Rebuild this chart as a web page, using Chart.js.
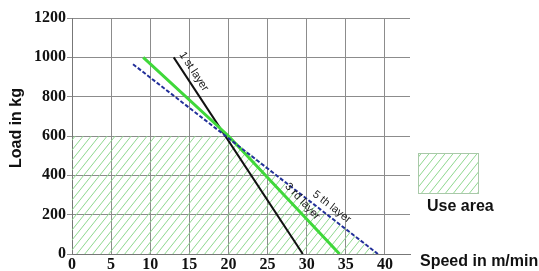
<!DOCTYPE html>
<html lang="en">
<head>
<meta charset="UTF-8">
<title>Load vs speed per layer</title>
<script src="https://cdn.jsdelivr.net/npm/chart.js"></script>
<style>
  html, body { margin: 0; padding: 0; background: #fff; }
  #wrap { width: 539px; height: 271px; }
</style>
</head>
<body>
<div id="wrap"><canvas id="loadChart" width="539" height="271"></canvas></div>
<script>
// values
const speedTicks = [0, 5, 10, 15, 20, 25, 30, 35, 40];
const loadTicks = [0, 200, 400, 600, 800, 1000, 1200];

const layer1Speed = [13.0, 29.5];
const layer1Load = [1000, 0];
const layer3Speed = [9.1, 20, 34.2];
const layer3Load = [1000, 600, 0];
const layer5Speed = [7.8, 39.1];
const layer5Load = [965, 0];
const useAreaSpeed = [0, 20, 39.1];
const useAreaLoad = [600, 600, 0];

const layerNames = ['1 st layer', '3 rd layer', '5 th layer'];
const layerNameSpeed = [14.6, 28.6, 32.5];

const toPoints = (xs, ys) => xs.map((x, i) => ({ x: x, y: ys[i] }));

// green hatch for the use area
function makeHatch() {
    const c = document.createElement('canvas');
    c.width = 8; c.height = 10;
    const g = c.getContext('2d');
    g.strokeStyle = '#8ed88e';
    g.lineWidth = 1;
    [-8, 0, 8].forEach(k => {
        g.beginPath();
        g.moveTo(k, 10);
        g.lineTo(k + 8, 0);
        g.stroke();
    });
    return g.createPattern(c, 'repeat');
}
const hatch = makeHatch();

const extras = {
    id: 'extras',
    afterDatasetsDraw(chart) {
        const ctx = chart.ctx;
        const xs = chart.scales.x, ys = chart.scales.y;
        ctx.save();
        ctx.font = '11px "Liberation Sans", Arial, sans-serif';
        ctx.fillStyle = '#1a1a1a';
        ctx.textAlign = 'center';
        ctx.textBaseline = 'middle';
        layerNames.forEach((name, i) => {
            const pts = chart.data.datasets[i + 1].data;
            const sx = layerNameSpeed[i];
            let k = 0;
            while (k < pts.length - 2 && sx > pts[k + 1].x) k++;
            const a = pts[k], b = pts[k + 1];
            const t = (sx - a.x) / (b.x - a.x);
            const sy = a.y + t * (b.y - a.y);
            const pa = { x: xs.getPixelForValue(a.x), y: ys.getPixelForValue(a.y) };
            const pb = { x: xs.getPixelForValue(b.x), y: ys.getPixelForValue(b.y) };
            const ang = Math.atan2(pb.y - pa.y, pb.x - pa.x);
            const off = 9;
            const cx = xs.getPixelForValue(sx) + off * Math.sin(ang);
            const cy = ys.getPixelForValue(sy) - off * Math.cos(ang);
            ctx.save();
            ctx.translate(cx, cy);
            ctx.rotate(ang);
            ctx.fillText(name, 0, 0);
            ctx.restore();
        });
        ctx.restore();
    },
    afterDraw(chart) {
        const ctx = chart.ctx;
        const area = chart.chartArea;
        ctx.save();
        ctx.fillStyle = '#111';
        ctx.font = 'bold 16px "Liberation Sans", Arial, sans-serif';

        // y axis title
        ctx.save();
        ctx.translate(17, 128);
        ctx.rotate(-Math.PI / 2);
        ctx.textAlign = 'center';
        ctx.textBaseline = 'middle';
        ctx.fillText('Load in kg', 0, 0);
        ctx.restore();

        // x axis title, right of the axis
        ctx.textAlign = 'left';
        ctx.textBaseline = 'middle';
        ctx.fillText('Speed in m/min', area.right + 10, area.bottom + 8);

        // use area key
        const bx = area.right + 8, by = 153, bw = 60, bh = 40;
        ctx.fillStyle = hatch;
        ctx.fillRect(bx, by, bw, bh);
        ctx.strokeStyle = '#a9c9a9';
        ctx.lineWidth = 1;
        ctx.strokeRect(bx + 0.5, by + 0.5, bw, bh);
        ctx.fillStyle = '#111';
        ctx.fillText('Use area', area.right + 17, 207);
        ctx.restore();
    }
};

const tickFont = { family: '"Liberation Serif", "Times New Roman", serif', size: 16, weight: 'bold' };

new Chart(document.getElementById('loadChart'), {
    type: 'scatter',
    data: {
        datasets: [
            {
                label: 'Use area',
                data: toPoints(useAreaSpeed, useAreaLoad),
                showLine: true,
                fill: 'origin',
                backgroundColor: hatch,
                borderWidth: 0,
                pointRadius: 0,
                order: 4
            },
            {
                label: '1 st layer',
                data: toPoints(layer1Speed, layer1Load),
                showLine: true,
                borderColor: '#111111',
                borderWidth: 2,
                pointRadius: 0,
                order: 3
            },
            {
                label: '3 rd layer',
                data: toPoints(layer3Speed, layer3Load),
                showLine: true,
                borderColor: '#3fd83a',
                borderWidth: 3,
                pointRadius: 0,
                order: 2
            },
            {
                label: '5 th layer',
                data: toPoints(layer5Speed, layer5Load),
                showLine: true,
                borderColor: '#23309a',
                borderWidth: 2,
                borderDash: [4, 2],
                pointRadius: 0,
                order: 1
            }
        ]
    },
    options: {
        responsive: false,
        animation: false,
        layout: { padding: { top: 18, right: 129, bottom: 0, left: 0 } },
        plugins: {
            legend: { display: false },
            tooltip: { enabled: false }
        },
        scales: {
            x: {
                type: 'linear',
                min: 0,
                max: 43.2,
                afterBuildTicks: s => { s.ticks = speedTicks.map(v => ({ value: v })); },
                afterFit: s => { s.height = 17; },
                grid: { color: '#8c8c8c', lineWidth: 1, drawTicks: false },
                border: { color: '#777', width: 1 },
                ticks: { padding: 1, color: '#111', font: tickFont, callback: v => String(v) }
            },
            y: {
                type: 'linear',
                min: 0,
                max: 1200,
                afterBuildTicks: s => { s.ticks = loadTicks.map(v => ({ value: v })); },
                afterFit: s => { s.width = 72; },
                grid: { color: '#8c8c8c', lineWidth: 1, tickLength: 5 },
                border: { color: '#777', width: 1 },
                ticks: { padding: 1, color: '#111', font: tickFont, callback: v => String(v) }
            }
        }
    },
    plugins: [extras]
});
</script>
</body>
</html>
